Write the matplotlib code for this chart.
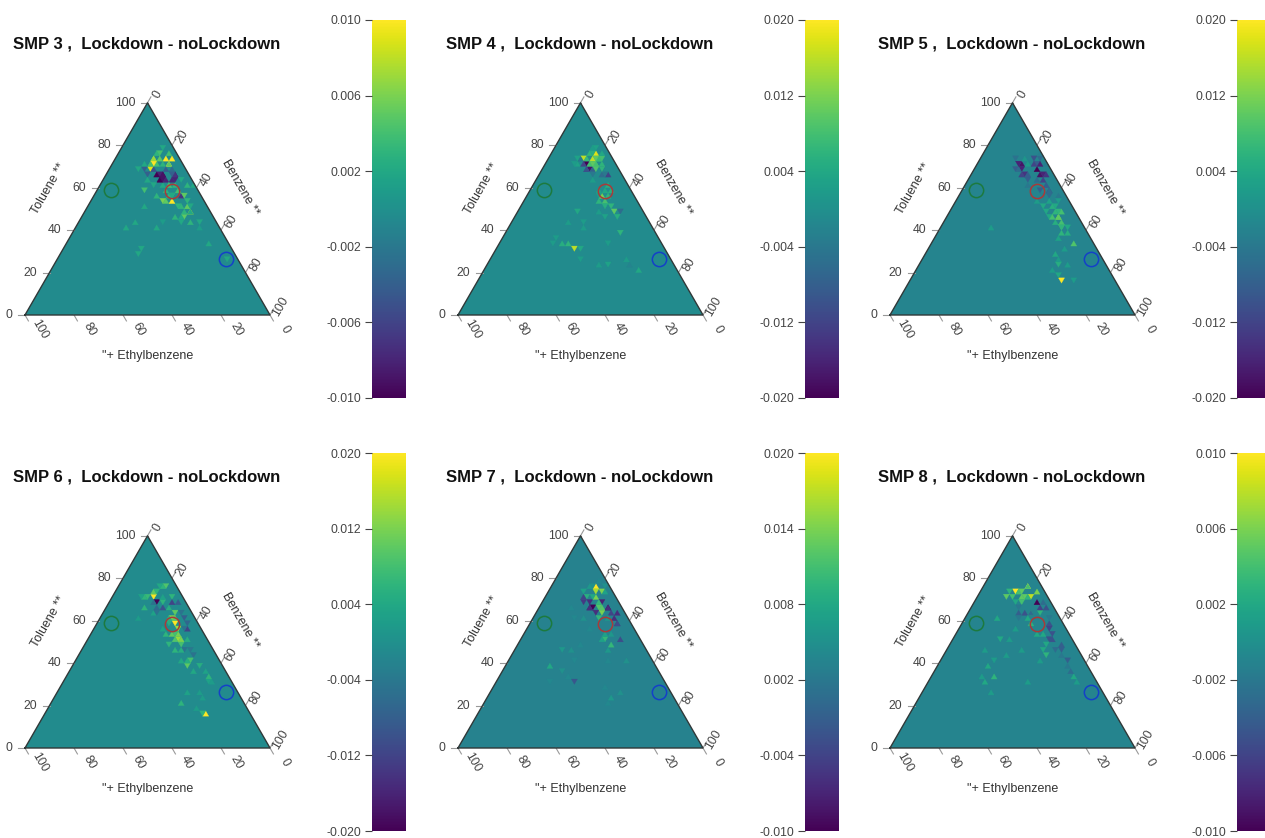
import numpy as np
import matplotlib
matplotlib.use('Agg')
import matplotlib.pyplot as plt
from matplotlib.cm import ScalarMappable
from matplotlib.colors import Normalize

plt.rcParams['font.family'] = ['Liberation Sans', 'DejaVu Sans']

W, H = 1265, 838
SCALE = 2.45     # pixels per percent on the triangle side
STEP = 2.5       # grid size in percent
GREY = '#444444'

titles = ['SMP 3 ,  Lockdown - noLockdown', 'SMP 4 ,  Lockdown - noLockdown',
          'SMP 5 ,  Lockdown - noLockdown', 'SMP 6 ,  Lockdown - noLockdown',
          'SMP 7 ,  Lockdown - noLockdown', 'SMP 8 ,  Lockdown - noLockdown']
ticks_pm10 = [0.010, 0.006, 0.002, -0.002, -0.006, -0.010]
ticks_pm20 = [0.020, 0.012, 0.004, -0.004, -0.012, -0.020]
ticks_7 = [0.020, 0.014, 0.008, 0.002, -0.004, -0.010]
bar_ticks = [ticks_pm10, ticks_pm20, ticks_pm20, ticks_pm20, ticks_7, ticks_pm10]
background = [-0.0004, -0.0008, -0.002, -0.0008, 0.0032, -0.001]

axis_ticks = [0, 20, 40, 60, 80, 100]
# toluene, benzene of the three reference mixtures
ref_tol = [59, 58.5, 26.4]
ref_ben = [5.6, 30.7, 69]
ref_col = ['#1c7a3e', '#a83a3a', '#1440c8']

# toluene, benzene, difference
cells_3 = [(76.5, 15.5, .003), (74, 15.4, .006), (73.2, 16.6, .007), (74, 20.5, .010), (74, 22.6, .010),
           (71.5, 17.5, .004), (70.7, 17.4, .010), (69.5, 17, .009), (70, 24.2, .010), (71, 22.5, .005),
           (71, 20, .003), (69.5, 10.8, .002), (65.2, 22.5, -.010), (63.7, 23.9, -.009), (66.8, 21, -.008),
           (68, 19, -.005), (66.8, 27.8, -.009), (64.8, 29.2, -.008), (68, 26, -.003), (60, 26, .002),
           (57, 25, .003), (60, 31, .003), (58, 33, .004), (61, 35, .003), (56, 35, .003), (55.3, 37, -.007),
           (57, 36, .005), (53.2, 32.6, .010), (54.2, 29.3, .006), (53.2, 30.5, .005), (50.8, 40.6, .005),
           (49, 43, .008), (50, 38, .003), (46, 42.4, .005), (45, 38, .003), (45, 40, .002), (43.5, 45.5, .003),
           (59, 18.7, .004), (50.5, 23.7, .002), (42.5, 24.3, .002), (40.5, 20, .002), (40.5, 32.8, .002),
           (34.6, 57.5, .002), (44, 48.8, .002), (40.5, 50.5, .001), (32.2, 32.3, .002), (29.9, 32, .002),
           (26.4, 69.1, .002), (44.8, 34, .001),
           (65.8, 21.7, -.010), (66.7, 22.8, -.009), (64.2, 22.8, -.010), (63.3, 25, -.008), (69.2, 22.5, -.004),
           (64.2, 27.5, -.008), (66, 28.8, -.007), (66.7, 26.2, -.004), (69.5, 14.5, -.004), (67, 16.5, -.004),
           (75.8, 17, .004), (75.8, 21, .004), (74.2, 18, .005), (71, 15, .004), (72, 12.5, .002), (64, 18, .002),
           (64, 32, .002), (62, 27.5, .002), (61, 22, .002), (57, 31, .004), (55.5, 30.5, .003), (58.5, 27.5, .003),
           (55.5, 32, .002), (54.5, 38.5, .003), (52, 37, .003), (52, 42, .002), (47.5, 40, .003), (47.5, 44, .002),
           (43, 42, .002), (78, 17, .002), (60.5, 38, .002), (60.5, 28.5, .004)]
cells_4 = [(74.4, 13.9, .016), (75.9, 19, .018), (73.9, 17.6, .016), (72, 15.8, -.020), (69.5, 19.1, -.018),
           (67.6, 18.7, -.010), (67.6, 22.1, -.006), (65.7, 28.4, -.012), (69.3, 24.5, -.006), (71.5, 20.2, .009),
           (72, 18, .008), (70.5, 18, .008), (72.5, 21, .007), (74, 20, .007), (70.5, 21.5, .008), (75, 16, .006),
           (73, 15, .007), (77.5, 15, .004), (79, 17, .003), (71, 13, .003), (58.2, 30.9, .004), (55.8, 30, .012),
           (53, 33.8, .008), (49.5, 38.4, .010), (48.4, 41.9, -.006), (46.4, 42.2, .005), (38.2, 47.3, .006),
           (32.2, 30.5, .016), (33.8, 27.5, .006), (34.1, 25.3, .005), (36.2, 22.2, .002), (33.8, 21.3, .002),
           (48.7, 24, .004), (42.5, 24.2, .002), (44.8, 29.4, .002), (34, 44.2, .002), (23.6, 48.9, .003),
           (21.2, 63, .004), (26, 55.6, .002), (23.6, 58.4, -.002),
           (70.8, 16.3, -.012), (72.5, 14, -.004), (68.5, 17.5, -.010), (68.5, 20.5, -.008), (68.5, 24, -.006),
           (66.5, 21, -.004), (66.5, 25, -.006), (66, 27, -.004), (73.5, 19.3, .010), (73.5, 21.5, .008),
           (71, 19, .010), (71, 23, .006), (69.8, 21, .009), (69.8, 23, .006), (76, 17, .005), (76, 21, .004),
           (78.5, 16, .002), (74, 11, .003), (72, 11, .002), (63, 24, .002), (59, 28, .003), (60, 31, .005),
           (58.2, 33, .005), (56.5, 32.5, .006), (57, 28, .002), (54, 30.5, .006), (51, 34, .005), (51, 36.5, .006),
           (47, 36, .003), (40, 32, .002), (48, 33, .002), (26, 37, .002), (24, 45, .002), (32, 33.5, .004)]
cells_5 = [(70, 18, -.018), (72.3, 15.8, -.010), (66.8, 21, -.014), (63.7, 23.9, -.008), (68.4, 26.3, -.020),
           (72.8, 22.4, -.010), (66, 28.2, -.018), (62.9, 31.1, -.012), (59, 31, -.008), (59, 35.1, -.010),
           (55.8, 37.4, -.006), (71, 24.5, -.008), (69, 16, -.008), (71, 20, .002), (60.5, 33, -.005),
           (45.9, 46.2, .012), (47, 45, .010), (49.5, 43.3, .006), (49.5, 39.9, .004), (52, 41, .004), (53, 38, .003),
           (47, 41, .004), (43, 46, .005), (40.6, 49.8, .008), (34.3, 58, .009), (37.7, 53, .005), (28, 53.8, .004),
           (24, 57.4, .005), (17.3, 62.1, .020), (19.7, 58, .004), (40.6, 20.2, .002), (16.5, 67.2, .002),
           (71, 17, -.016), (68.5, 19.5, -.016), (65.5, 21, -.012), (65.5, 23.5, -.008), (67.5, 17.5, -.006),
           (73.5, 14.5, -.005), (62, 25, -.004), (70.5, 26, -.016), (70, 24, -.012), (67, 29, -.016), (65, 30, -.014),
           (64, 28, -.006), (61, 33, -.008), (73, 24.5, -.006), (75, 23, -.003), (57.5, 36.5, -.006), (55, 40, -.004),
           (57, 33, -.003), (53, 34, .002), (51, 37, .004), (54.5, 42, .002), (50, 41.5, .005), (48, 42.5, .006),
           (45, 44, .008), (48, 45, .008), (44, 48, .008), (42, 48, .006), (42, 51, .004), (39, 50, .006), (37, 50, .003),
           (32, 55, .002), (26, 55, .002), (24, 60, .002), (21, 56, .002), (74, 18, .001), (70, 28.5, -.003)]
cells_6 = [(71.4, 17.4, .020), (69.5, 18.3, -.020), (73.7, 15.5, .010), (72, 14.5, .007), (76.1, 19.8, .009),
           (75.5, 18, .006), (72.2, 24.4, .006), (69.3, 25.6, -.012), (67.5, 28.2, -.008), (65.1, 23.7, -.010),
           (65.6, 15.9, .006), (69.5, 22.4, .006), (64.3, 28.4, .010), (59.6, 32.3, .020), (57.2, 33.3, .014),
           (62, 28.2, .012), (61.2, 33.8, -.008), (55.7, 38.5, -.012), (51.7, 37.1, .014), (52.5, 33.7, .010),
           (53.3, 30.5, .006), (50.5, 35, .009), (48.6, 39.4, .008), (44.2, 46.3, -.005), (42.3, 46.5, .008),
           (38.3, 47.2, .010), (39.2, 51, .005), (34.4, 57.6, .006), (17.1, 65.3, .020), (17.1, 63.1, .006),
           (21.4, 52.6, .006), (26, 53.7, .003), (23.4, 61.1, .002), (67, 20, -.006), (47, 42, -.005), (63, 20, .003),
           (70.5, 14, .006), (74.5, 17, .006), (77, 17, .004), (71, 21, .003), (68, 18, -.005), (67, 25, -.006),
           (64, 21.5, -.005), (71, 12, .003), (65, 27, .005), (61, 30.5, .010), (59, 29.5, .005), (60, 28.5, .006),
           (64, 31, -.005), (59, 36, -.007), (57, 36, -.005), (53, 36, .012), (54, 34, .008), (50, 37.5, .012),
           (49.5, 33, .006), (46, 38, .006), (45, 41, .005), (51, 41, .005), (47, 44, -.004), (41, 43, .004),
           (40, 46, .005), (36, 51, .004), (36, 56, .003), (32, 58, .003), (30, 60, .002), (26, 58, .002),
           (19, 60, .002), (55, 28, .003), (60, 16, .002)]
cells_7 = [(75.8, 19.1, .020), (73.7, 19.1, .016), (74.5, 21.4, .014), (70.1, 21.9, .014), (66.7, 24.6, .012),
           (63.5, 27, .014), (69, 19.4, -.006), (65.4, 22.3, -.010), (67, 20, -.005), (69.5, 24.6, -.007),
           (67, 27.9, -.010), (61.2, 32.8, -.006), (63, 31, -.004), (51.7, 34.2, .010), (53.5, 32.5, .007),
           (48.6, 38.8, .010), (51.3, 40.5, -.003), (37.9, 19.3, .008), (32.4, 30.5, -.002), (47, 19.5, .006),
           (45.4, 23.7, .005), (73.7, 14.3, .007), (25.8, 53.2, .005), (24.2, 50.6, .006), (40, 48.9, .005),
           (72, 17, .009), (77, 17, .005), (60, 22, .005), (36, 24, .005), (34, 28, .004),
           (76, 16, .006), (72.5, 23, .007), (71, 19.5, .008), (68, 22.5, .010), (65, 25, .012), (62, 26, .010),
           (60, 30, .006), (66, 20.5, -.006), (68, 17, -.005), (70, 16.5, -.004), (64, 24, -.006), (65, 29, -.006),
           (63.5, 33, -.006), (59.5, 35, -.004), (57.5, 37, -.003), (53, 36, .006), (50, 33, .007), (46.5, 38, .006),
           (42, 40, .004), (56, 25, .004), (62, 16, .004), (65, 13, .004), (42, 27, .004), (48, 25, .004),
           (28, 46, .004), (20, 50, .004), (31, 22, .004), (76, 22, .005), (78, 19, .004)]
cells_8 = [(74.2, 13.6, .010), (76.6, 18.2, .010), (72.2, 21.7, .008), (70.6, 17.8, .005), (71, 14, .004),
           (73, 16, .004), (69.5, 19, .004), (75, 19.5, .004), (73, 12, .003), (67.8, 26.6, -.010), (64.3, 22.9, -.005),
           (63.8, 21.2, -.004), (62.7, 27.1, .003), (63.5, 29.5, .003), (65.4, 30.6, -.005), (55.7, 37.4, -.006),
           (57.5, 36, -.005), (50.1, 41.4, -.005), (48.6, 45.1, -.004), (44.7, 42.2, .003), (41.8, 51.2, -.004),
           (34.4, 57.6, .002), (36.8, 55.1, -.003), (50.6, 19.6, .002), (34.4, 25, .003), (38.3, 20, .002),
           (59, 28, .003), (53, 33, .002), (47, 30, .001), (44, 25, .001), (40, 40, .001),
           (74.5, 16, .005), (72, 12, .005), (71, 19, .005), (74, 22.5, .006), (70, 22, .003), (68, 17, .002),
           (67, 19, -.002), (64, 25, -.003), (61.5, 21, -.002), (60, 25, .002), (66, 28.5, -.006), (69, 28, -.003),
           (62, 33, -.002), (54, 39, -.005), (52.5, 35, .002), (52, 38.5, -.005), (49, 39, .002), (46, 44, -.003),
           (46, 39, .002), (43, 48, -.002), (39, 53, -.002), (55, 23, .001), (50, 24, .001), (46, 16, .001),
           (42, 22, .001), (30, 24, .002), (25, 28, .001), (34, 20, .001), (60, 13, .002), (47, 47, -.004),
           (32, 40, .001), (30, 60, .001)]
panel_cells = [cells_3, cells_4, cells_5, cells_6, cells_7, cells_8]


def tern(tol, ben):
    tol, ben = np.asarray(tol, float), np.asarray(ben, float)
    return ben + tol / 2, tol * np.sqrt(3) / 2


def cell_triangles(cells):
    # each (toluene, benzene) falls in one small up or down triangle of the grid
    xs, ys, tris, vals = [], [], [], []
    for tol, ben, v in cells:
        i, j = int(tol // STEP), int(ben // STEP)
        up = (tol % STEP) + (ben % STEP) < STEP
        if up:
            corners = [(i, j), (i, j + 1), (i + 1, j)]
        else:
            corners = [(i, j + 1), (i + 1, j + 1), (i + 1, j)]
        x, y = tern([c[0] * STEP for c in corners], [c[1] * STEP for c in corners])
        n = len(xs)
        xs.extend(x)
        ys.extend(y)
        tris.append([n, n + 1, n + 2])
        vals.append(v)
    return np.array(xs), np.array(ys), np.array(tris), np.array(vals)


def draw_panel(fig, ox, by, title, cells, ticks, bg):
    ax = fig.add_axes([(ox - 25) / W, 1 - (by + 60) / H, 400 / W, 400 / H])
    ax.set_xlim(-25 / SCALE, 375 / SCALE)
    ax.set_ylim(-60 / SCALE, 340 / SCALE)
    ax.axis('off')

    vmin, vmax = min(ticks), max(ticks)
    norm = Normalize(vmin, vmax)
    cmap = plt.get_cmap('viridis')

    # triangle
    cx, cy = tern([0, 0, 100], [0, 100, 0])
    ax.fill(cx, cy, color=cmap(norm(bg)), lw=0, zorder=1)
    xs, ys, tris, vals = cell_triangles(cells)
    ax.tripcolor(xs, ys, tris, facecolors=vals, cmap=cmap, norm=norm, edgecolors='face', linewidth=0.2, zorder=2)
    ax.plot(np.r_[cx, cx[0]], np.r_[cy, cy[0]], color='#303838', lw=1.0, zorder=3)

    # ticks, 60 degree directions for the two slanted sides
    c60, s60 = 0.5, np.sqrt(3) / 2
    for t in axis_ticks:
        x, y = tern(t, 0)
        ax.plot([x - 2.8, x], [y, y], color='#999999', lw=0.8, clip_on=False)
        ax.text(x - 5, y, str(t), ha='right', va='center', fontsize=8.8, color=GREY)

        x, y = tern(100 - t, t)
        ax.plot([x, x + 2.8 * c60], [y, y + 2.8 * s60], color='#999999', lw=0.8, clip_on=False)
        ax.text(x + 4.3, y + 3.4, str(t), ha='center', va='center', fontsize=8.8, color=GREY, rotation=60)

        x, y = tern(0, 100 - t)
        ax.plot([x, x + 2.8 * c60], [y, y - 2.8 * s60], color='#999999', lw=0.8, clip_on=False)
        ax.text(x + 6.2, y - 6, str(t), ha='center', va='center', fontsize=8.8, color=GREY, rotation=-60)

    ax.text(50, -41 / SCALE, '"+ Ethylbenzene', ha='center', va='center', fontsize=9, color='#333333')
    ax.text(24 / SCALE, 126 / SCALE, 'Toluene **', ha='center', va='center', fontsize=9, color='#333333', rotation=60)
    ax.text(215 / SCALE, 127 / SCALE, 'Benzene **', ha='center', va='center', fontsize=9, color='#333333', rotation=-60)
    ax.text(-12 / SCALE, 271 / SCALE, title, ha='left', va='center', fontsize=12, fontweight='bold', color='#111111')

    for t, b, c in zip(ref_tol, ref_ben, ref_col):
        x, y = tern(t, b)
        ax.plot(x, y, 'o', ms=10.3, mfc='none', mec=c, mew=1.1, zorder=4)

    # colour bar
    top = by - 295
    cax = fig.add_axes([(ox + 347) / W, 1 - (top + 378) / H, 34 / W, 378 / H])
    cb = fig.colorbar(ScalarMappable(norm=norm, cmap=cmap), cax=cax, ticks=ticks)
    cb.outline.set_visible(False)
    cax.yaxis.set_ticks_position('left')
    cax.set_yticklabels(['%.3f' % t for t in ticks])
    cax.tick_params(axis='y', length=5, width=0.8, color='#444444', labelsize=8.8, labelcolor=GREY, pad=3)


fig = plt.figure(figsize=(W / 100, H / 100), dpi=100)
origins = [(25, 315), (458, 315), (890, 315), (25, 748), (458, 748), (890, 748)]
for k in range(6):
    ox, by = origins[k]
    draw_panel(fig, ox, by, titles[k], panel_cells[k], bar_ticks[k], background[k])

fig.savefig('out.png', dpi=100)
